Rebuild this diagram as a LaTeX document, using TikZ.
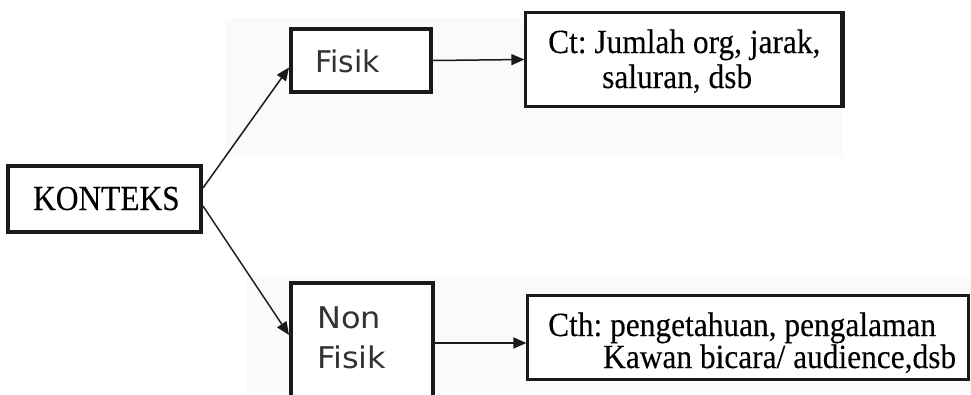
\documentclass[tikz,border=0pt]{standalone}
\usepackage{fontspec}
\setmainfont{Liberation Serif}[FakeBold=0.2]
\newfontfamily\verdanalike{DejaVu Sans}
\usetikzlibrary{arrows.meta}
\definecolor{ink}{HTML}{1A1A1A}
\definecolor{haze}{HTML}{FAFAFA}
\newcommand\tallserif[1]{\scalebox{1}[1.08]{#1}}
\frenchspacing
\tikzset{
  heavybox/.style={draw=ink, line width=4bp},
  lightbox/.style={draw=ink, line width=2.2bp},
  serifbig/.style={font=\fontsize{31.5}{34}\selectfont, text=black, inner sep=0pt, anchor=base west},
  sanslabel/.style={font=\verdanalike\fontsize{30}{37}\selectfont, text=black!80, inner sep=0pt, anchor=base west},
  link/.style={draw=ink, line width=1.5bp, -{Triangle[length=13bp,width=11bp]}},
}
\begin{document}
\begin{tikzpicture}[x=1bp, y=-1bp]
  \useasboundingbox (0,0) rectangle (971,394);
  \clip (0,0) rectangle (971,394);
  % faint paper tone behind the two branches
  \fill[haze] (225,18) rectangle (843,157);
  \fill[haze] (247,275) rectangle (971,394);

  % root box
  \node[heavybox, fill=white, minimum width=193bp, minimum height=66bp, inner sep=0pt] (k) at (104.5,199) {};
  \node[serifbig, font=\fontsize{31.5}{34}\selectfont] (kt) at (33,210) {\scalebox{1}[1.12]{KONTEKS}};

  % upper branch
  \node[heavybox, fill=white, minimum width=140bp, minimum height=63bp, inner sep=0pt] (f) at (361,60.5) {};
  \node[sanslabel] (ft) at (315,72) {Fisik};
  \node[lightbox, fill=white, minimum width=316bp, minimum height=94bp, inner sep=0pt] (ct) at (683.5,59.5) {};
  \draw[ink, line width=4bp] (ct.north east) -- (ct.south east);
  \node[serifbig] (ct1) at (548,53) {\tallserif{Ct: Jumlah org, jarak,}};
  \node[serifbig] (ct2) at (602,88) {\tallserif{saluran, dsb}};

  % lower branch (box runs past the lower edge)
  \node[heavybox, fill=white, minimum width=142bp, minimum height=120bp, inner sep=0pt] (nf) at (362,343) {};
  \node[sanslabel] (nft1) at (317,328) {\scalebox{1.07}[1]{Non}};
  \node[sanslabel] (nft2) at (317,368) {\scalebox{1.07}[1]{Fisik}};
  \node[lightbox, fill=white, minimum width=441bp, minimum height=84bp, inner sep=0pt] (cth) at (748,337.5) {};
  \node[serifbig] (cth1) at (548,336) {\tallserif{Cth: pengetahuan, pengalaman}};
  \node[serifbig] (cth2) at (603,368) {\tallserif{Kawan bicara/ audience,dsb}};

  % connectors
  \draw[link] ([yshift=11bp]k.east) -- ([yshift=-7bp]f.west);
  \draw[link] ([yshift=-7bp]k.east) -- ([yshift=8bp]nf.west);
  \draw[link] (f.east) -- (ct.west);
  \draw[link] (nf.east) -- (nf.east -| cth.west);
\end{tikzpicture}
\end{document}
